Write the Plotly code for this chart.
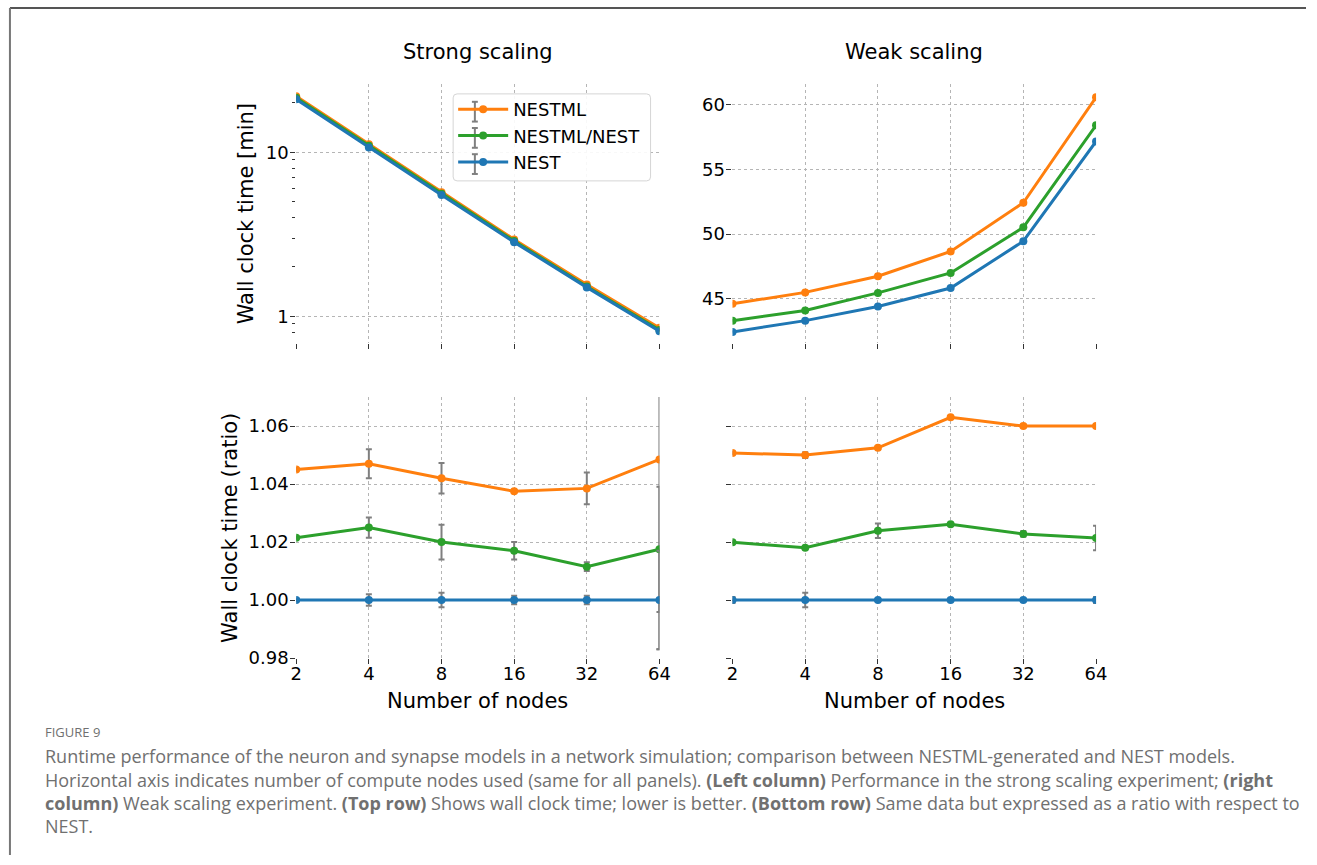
import math
import plotly.graph_objects as go

# ---------------- data ----------------
nodes = [2, 4, 8, 16, 32, 64]
series_names = ["NESTML", "NESTML/NEST", "NEST"]
colors = ["#ff7f0e", "#2ca02c", "#1f77b4"]

# wall clock time [min]
strong_nestml = [21.95, 11.2, 5.71, 2.94, 1.56, 0.85]
strong_nestml_nest = [21.45, 10.97, 5.59, 2.88, 1.52, 0.825]
strong_nest = [21.0, 10.7, 5.48, 2.83, 1.50, 0.81]

weak_nestml = [44.62, 45.50, 46.75, 48.66, 52.42, 60.56]
weak_nestml_nest = [43.32, 44.11, 45.46, 47.00, 50.52, 58.40]
weak_nest = [42.45, 43.32, 44.41, 45.84, 49.45, 57.15]

# ratio with respect to NEST
strong_ratio_nestml = [1.045, 1.047, 1.042, 1.0375, 1.0385, 1.0485]
strong_ratio_nestml_nest = [1.0215, 1.025, 1.020, 1.017, 1.0115, 1.0175]
strong_ratio_nest = [1.0, 1.0, 1.0, 1.0, 1.0, 1.0]
strong_err_nestml = [0.0005, 0.005, 0.0053, 0.0005, 0.0055, 0.0655]
strong_err_nestml_nest = [0.0005, 0.0035, 0.006, 0.003, 0.0015, 0.0216]
strong_err_nest = [0.0005, 0.002, 0.0025, 0.0015, 0.0015, 0.017]

weak_ratio_nestml = [1.0507, 1.050, 1.0525, 1.063, 1.060, 1.060]
weak_ratio_nestml_nest = [1.0199, 1.018, 1.0239, 1.0261, 1.0228, 1.0214]
weak_ratio_nest = [1.0, 1.0, 1.0, 1.0, 1.0, 1.0]
weak_err_nestml = [0.0005, 0.001, 0.0005, 0.0005, 0.0005, 0.0005]
weak_err_nestml_nest = [0.0005, 0.0005, 0.0025, 0.0005, 0.001, 0.0042]
weak_err_nest = [0.001, 0.0025, 0.0003, 0.0003, 0.0003, 0.001]

ratio_ticks = [0.98, 1.00, 1.02, 1.04, 1.06]
log_major = [1, 10]
log_minor = [0.8, 0.9, 2, 3, 4, 5, 6, 7, 8, 9, 20]
weak_ticks = [45, 50, 55, 60]

# ---------------- figure ----------------
W, H = 1317, 865
FONT = "DejaVu Sans"
ERRC = "#7f7f7f"

def px_x(p):
    return p / W

def px_y(p):
    return 1 - p / H

fig = go.Figure()

panels = [
    ("x", "y", [strong_nestml, strong_nestml_nest, strong_nest], None, True),
    ("x2", "y2", [weak_nestml, weak_nestml_nest, weak_nest], None, False),
    ("x3", "y3", [strong_ratio_nestml, strong_ratio_nestml_nest, strong_ratio_nest],
     [strong_err_nestml, strong_err_nestml_nest, strong_err_nest], False),
    ("x4", "y4", [weak_ratio_nestml, weak_ratio_nestml_nest, weak_ratio_nest],
     [weak_err_nestml, weak_err_nestml_nest, weak_err_nest], False),
]

for xa, ya, ys, errs, show in panels:
    for i, (name, col) in enumerate(zip(series_names, colors)):
        kw = {}
        if errs is not None:
            kw["error_y"] = dict(type="data", array=errs[i], color=ERRC,
                                 thickness=2, width=3)
        fig.add_trace(go.Scatter(
            x=nodes, y=ys[i], name=name, mode="lines+markers",
            line=dict(color=col, width=3),
            marker=dict(color=col, size=8),
            xaxis=xa, yaxis=ya, showlegend=show, **kw))

grid = dict(showgrid=True, gridcolor="#b5b5b5", gridwidth=1, griddash="dot",
            showline=False, zeroline=False, ticks="outside", ticklen=5,
            tickwidth=1, tickcolor="#333333",
            tickfont=dict(family=FONT, size=18, color="black"))

xdom_l = [px_x(294), px_x(662)]
xdom_r = [px_x(736), px_x(1104.3)]
ydom_t = [px_y(347.2), px_y(85.3)]
ydom_b = [px_y(665.7), px_y(401.7)]
xr = [math.log10(2), math.log10(64)]

xcommon = dict(type="log", range=xr, tickmode="array", tickvals=nodes,
               ticktext=[str(n) for n in nodes], **grid)

fig.update_layout(
    width=W, height=H,
    margin=dict(l=0, r=0, t=0, b=0),
    paper_bgcolor="white", plot_bgcolor="white",
    font=dict(family=FONT, color="black"),
    xaxis=dict(domain=xdom_l, anchor="y", showticklabels=False, **xcommon),
    xaxis2=dict(domain=xdom_r, anchor="y2", showticklabels=False, **xcommon),
    xaxis3=dict(domain=xdom_l, anchor="y3", showticklabels=True, ticklabelstandoff=-6, **xcommon),
    xaxis4=dict(domain=xdom_r, anchor="y4", showticklabels=True, ticklabelstandoff=-6, **xcommon),
    yaxis=dict(domain=ydom_t, anchor="x", type="log", range=[-0.164, 1.414],
               tickmode="array", tickvals=log_major, ticktext=["1", "10"],
               ticklabelstandoff=-2,
               minor=dict(ticks="outside", ticklen=3, tickwidth=1, tickcolor="#333333",
                          tickvals=log_minor, showgrid=False),
               **grid),
    yaxis2=dict(domain=ydom_t, anchor="x2", range=[41.58, 61.56], ticklabelstandoff=-2,
                tickmode="array", tickvals=weak_ticks, **grid),
    yaxis3=dict(domain=ydom_b, anchor="x3", range=[0.98, 1.07], ticklabelstandoff=-2,
                tickmode="array", tickvals=ratio_ticks,
                ticktext=["%.2f" % v for v in ratio_ticks], **grid),
    yaxis4=dict(domain=ydom_b, anchor="x4", range=[0.98, 1.07],
                tickmode="array", tickvals=ratio_ticks, showticklabels=False, **grid),
    legend=dict(x=px_x(453), y=px_y(92), xanchor="left", yanchor="top",
                bgcolor="rgba(0,0,0,0)", borderwidth=0,
                font=dict(family=FONT, size=18, color="black"), itemwidth=50,
                tracegroupgap=0),
)

# legend frame (rounded, light border, white background) drawn behind legend entries
lx0, lx1, ly0, ly1, r = 453, 653, 95, 183, 4
path = (f"M {px_x(lx0 + r)},{px_y(ly0)} L {px_x(lx1 - r)},{px_y(ly0)} "
        f"Q {px_x(lx1)},{px_y(ly0)} {px_x(lx1)},{px_y(ly0 + r)} "
        f"L {px_x(lx1)},{px_y(ly1 - r)} Q {px_x(lx1)},{px_y(ly1)} {px_x(lx1 - r)},{px_y(ly1)} "
        f"L {px_x(lx0 + r)},{px_y(ly1)} Q {px_x(lx0)},{px_y(ly1)} {px_x(lx0)},{px_y(ly1 - r)} "
        f"L {px_x(lx0)},{px_y(ly0 + r)} Q {px_x(lx0)},{px_y(ly0)} {px_x(lx0 + r)},{px_y(ly0)} Z")
fig.add_shape(type="path", path=path, xref="paper", yref="paper", layer="above",
              fillcolor="rgba(255,255,255,0.9)", line=dict(color="#d5d5d5", width=1))
# error-bar glyphs of the legend entries
for ry in [113, 139.5, 166]:
    fig.add_shape(type="line", xref="paper", yref="paper", layer="above",
                  x0=px_x(475), x1=px_x(475), y0=px_y(ry - 10), y1=px_y(ry + 10),
                  line=dict(color=ERRC, width=2))
    for dy in (-10, 10):
        fig.add_shape(type="line", xref="paper", yref="paper", layer="above",
                      x0=px_x(472), x1=px_x(478), y0=px_y(ry + dy), y1=px_y(ry + dy),
                      line=dict(color=ERRC, width=2))

ann = []
# panel titles
for t, xx in [("Strong scaling", 478), ("Weak scaling", 920)]:
    ann.append(dict(text=t, x=px_x(xx), y=px_y(53), xref="paper", yref="paper",
                    xanchor="center", yanchor="middle", showarrow=False,
                    font=dict(family=FONT, size=21, color="black")))

axis_titles = [
    ("Wall clock time [min]", px_x(243), px_y(216), -90),
    ("Wall clock time (ratio)", px_x(227), px_y(534), -90),
    ("Number of nodes", px_x(478), px_y(709), 0),
    ("Number of nodes", px_x(920), px_y(709), 0),
]
for t, x, y, ang in axis_titles:
    ann.append(dict(text=t, x=x, y=y, xref="paper", yref="paper",
                    xanchor="center", yanchor="middle", textangle=ang,
                    showarrow=False, font=dict(family=FONT, size=21, color="black")))

# caption
CAP = "Open Sans"
capc = "#707070"
ann.append(dict(text="FIGURE 9", x=px_x(37), y=px_y(741), xref="paper", yref="paper",
                xanchor="left", yanchor="middle", showarrow=False,
                font=dict(family=CAP, size=13, color=capc)))
caption_lines = [
    "Runtime performance of the neuron and synapse models in a network simulation; comparison between NESTML-generated and NEST models.",
    "Horizontal axis indicates number of compute nodes used (same for all panels). <b>(Left column)</b> Performance in the strong scaling experiment; <b>(right</b>",
    "<b>column)</b> Weak scaling experiment. <b>(Top row)</b> Shows wall clock time; lower is better. <b>(Bottom row)</b> Same data but expressed as a ratio with respect to",
    "NEST.",
]
cap_y = [765, 789, 812, 836]
for line, yy in zip(caption_lines, cap_y):
    ann.append(dict(text=line, x=px_x(37), y=px_y(yy), xref="paper", yref="paper",
                    xanchor="left", yanchor="middle", showarrow=False,
                    font=dict(family=CAP, size=18, color=capc)))

fig.update_layout(annotations=ann)

# frame lines (top and left)
fig.add_shape(type="line", xref="paper", yref="paper", x0=px_x(4), x1=1, y0=px_y(8), y1=px_y(8),
              line=dict(color="#555555", width=2))
fig.add_shape(type="line", xref="paper", yref="paper", x0=px_x(4), x1=px_x(4), y0=px_y(8), y1=0,
              line=dict(color="#777777", width=2))

fig.write_html(
    "out.html",
    post_script="document.body.style.margin='0';document.body.style.overflow='hidden';"
                "document.documentElement.style.overflow='hidden';",
)
